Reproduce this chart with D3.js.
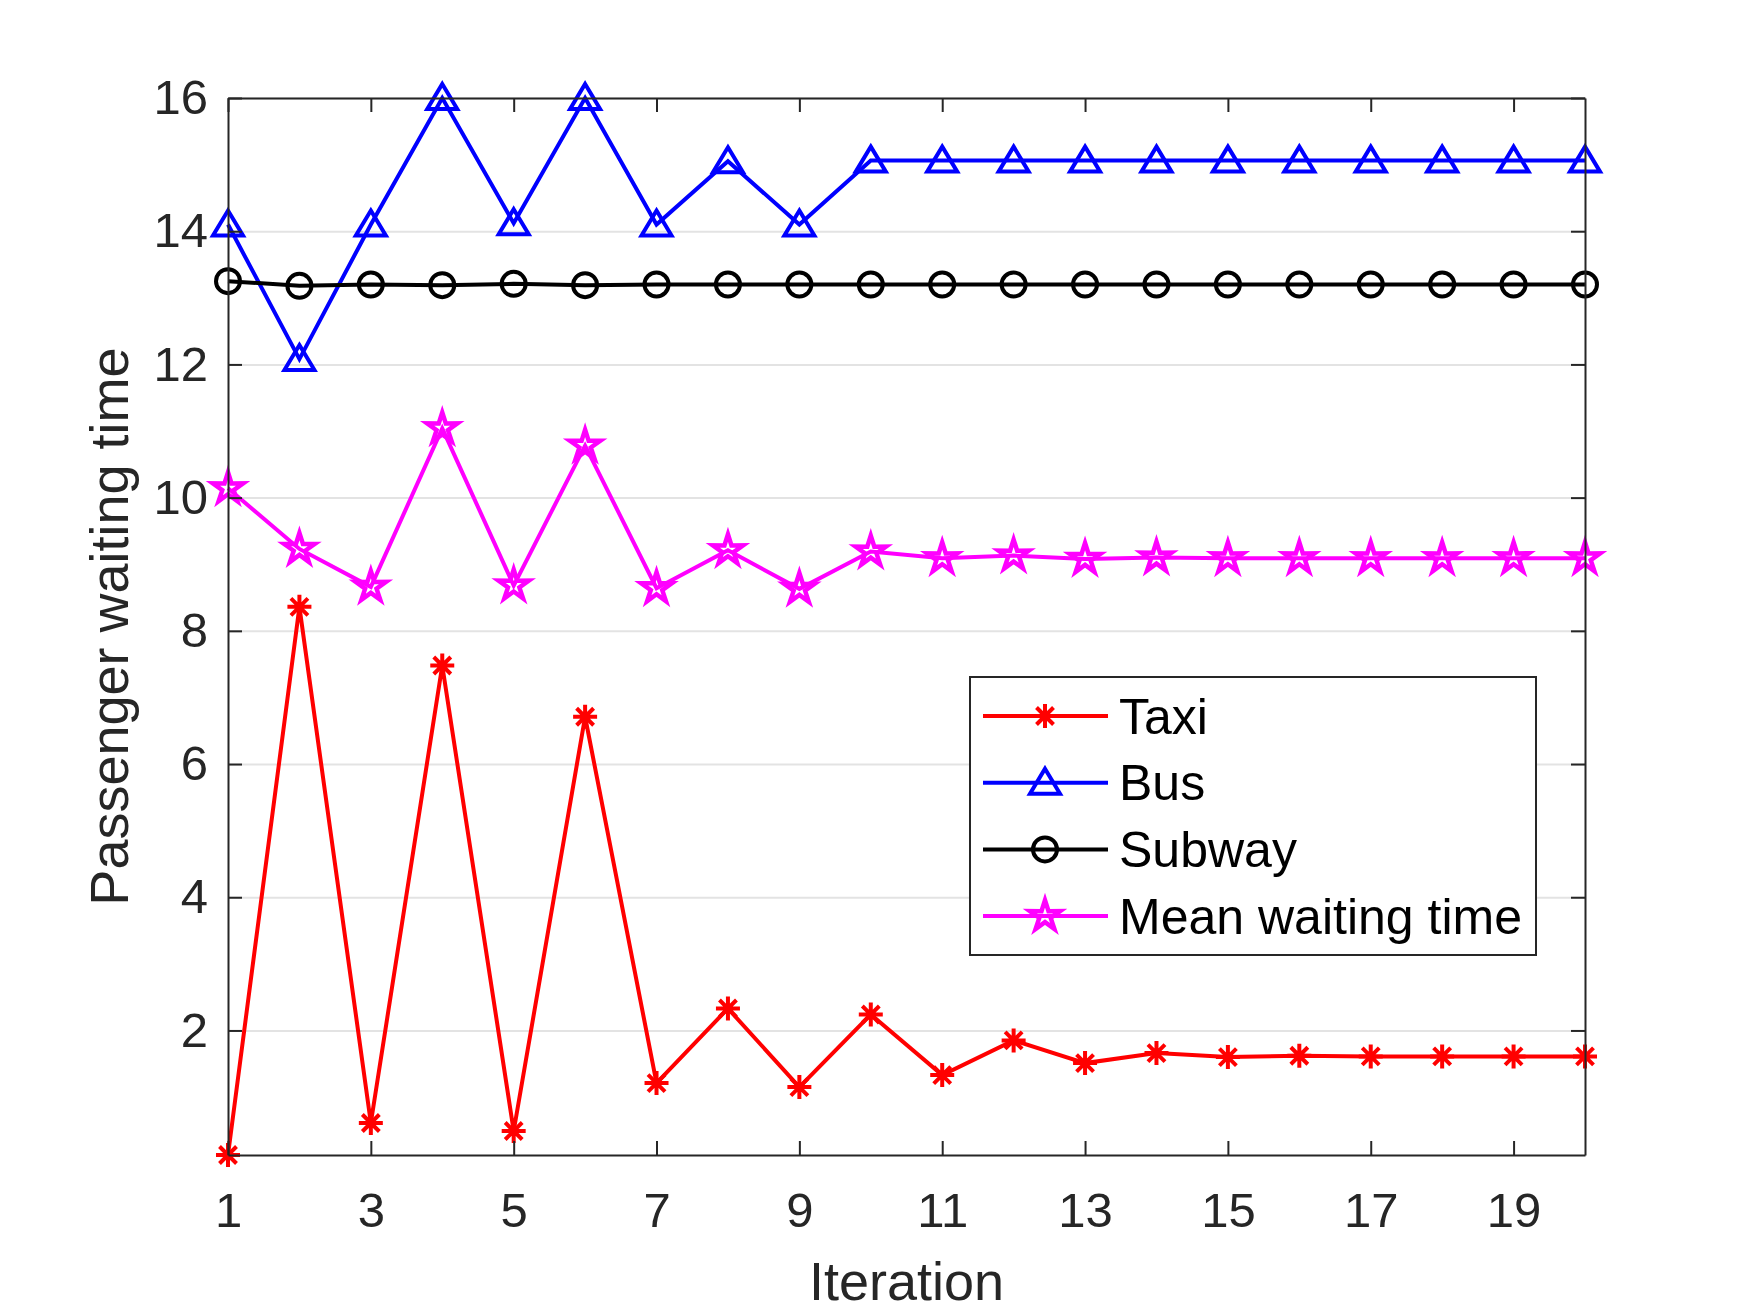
<!DOCTYPE html>
<html>
<head>
<meta charset="utf-8">
<script src="https://cdn.jsdelivr.net/npm/d3@7"></script>
<style>
  body { margin: 0; background: #fff; }
  svg text { font-family: "Liberation Sans", Arial, Helvetica, sans-serif; }
</style>
</head>
<body>
<svg id="chart" width="1750" height="1312"></svg>
<script>
// Data
const iterations = d3.range(1, 21);
const taxi = [0.13, 8.36, 0.61, 7.48, 0.49, 6.71, 1.21, 2.33, 1.15, 2.24,
              1.33, 1.85, 1.51, 1.66, 1.60, 1.62, 1.61, 1.61, 1.61, 1.61];
const bus = [14.1, 12.08, 14.1, 16.0, 14.12, 16.0, 14.1, 15.05, 14.1, 15.06,
             15.06, 15.06, 15.06, 15.06, 15.06, 15.06, 15.06, 15.06, 15.06, 15.06];
const subway = [13.25, 13.18, 13.2, 13.19, 13.21, 13.19, 13.2, 13.2, 13.2, 13.2,
                13.2, 13.2, 13.2, 13.2, 13.2, 13.2, 13.2, 13.2, 13.2, 13.2];
const meanWait = [10.14, 9.23, 8.66, 11.04, 8.68, 10.78, 8.64, 9.21, 8.63, 9.19,
                  9.09, 9.13, 9.08, 9.1, 9.09, 9.09, 9.09, 9.09, 9.09, 9.09];
const xTicks = [1, 3, 5, 7, 9, 11, 13, 15, 17, 19];
const yTicks = [2, 4, 6, 8, 10, 12, 14, 16];

const series = [
  { name: "Taxi", values: taxi, color: "#ff0000", marker: "asterisk" },
  { name: "Bus", values: bus, color: "#0000ff", marker: "triangle" },
  { name: "Subway", values: subway, color: "#000000", marker: "circle" },
  { name: "Mean waiting time", values: meanWait, color: "#ff00ff", marker: "star" }
];

const margin = { top: 98, right: 165, bottom: 157, left: 228 };
const width = 1750 - margin.left - margin.right;
const height = 1312 - margin.top - margin.bottom;
const axisColor = "#262626";

const svg = d3.select("#chart");
const g = svg.append("g").attr("transform", `translate(${margin.left},${margin.top})`);

// Scales (tight limits like the original)
const allValues = series.flatMap(s => s.values);
const x = d3.scaleLinear().domain([1, 20]).range([0, width]);
const y = d3.scaleLinear().domain([d3.min(allValues), d3.max(allValues)]).range([height, 0]);

// Horizontal grid
g.append("g")
  .call(d3.axisLeft(y).tickValues(yTicks).tickSize(-width).tickFormat(""))
  .call(a => a.select(".domain").remove())
  .selectAll("line")
  .attr("stroke", "#e3e3e3")
  .attr("stroke-width", 2);

// Marker drawing
function drawMarker(sel, type, color) {
  if (type === "circle") {
    sel.append("circle").attr("r", 12).attr("fill", "none")
      .attr("stroke", color).attr("stroke-width", 4);
  } else if (type === "triangle") {
    sel.append("path").attr("d", "M0,-14L15,11L-15,11Z").attr("fill", "none")
      .attr("stroke", color).attr("stroke-width", 4).attr("stroke-linejoin", "miter");
  } else if (type === "star") {
    const pts = d3.range(10).map(i => {
      const r = i % 2 === 0 ? 16 : 6;
      const a = -Math.PI / 2 + i * Math.PI / 5;
      return [r * Math.cos(a), r * Math.sin(a)];
    });
    sel.append("path").attr("d", "M" + pts.join("L") + "Z").attr("fill", "none")
      .attr("stroke", color).attr("stroke-width", 4.5);
  } else if (type === "asterisk") {
    const r = 12, d = 8.5;
    sel.append("path")
      .attr("d", `M0,${-r}V${r}M${-r},0H${r}M${-d},${-d}L${d},${d}M${-d},${d}L${d},${-d}`)
      .attr("stroke", color).attr("stroke-width", 4).attr("fill", "none");
  }
}

// Lines and markers
const line = d3.line().x((d, i) => x(iterations[i])).y(d => y(d));
series.forEach(s => {
  g.append("path")
    .datum(s.values)
    .attr("fill", "none")
    .attr("stroke", s.color)
    .attr("stroke-width", 4)
    .attr("d", line);
  s.values.forEach((v, i) => {
    const m = g.append("g").attr("transform", `translate(${x(iterations[i])},${y(v)})`);
    drawMarker(m, s.marker, s.color);
  });
});

// Axes (ticks point inward on all four sides)
function styleAxis(a) {
  a.select(".domain").attr("stroke", axisColor).attr("stroke-width", 2);
  a.selectAll(".tick line").attr("stroke", axisColor).attr("stroke-width", 2);
  a.selectAll("text").attr("fill", axisColor).attr("font-size", 49);
}

g.append("g")
  .attr("transform", `translate(0,${height})`)
  .call(d3.axisBottom(x).tickValues(xTicks).tickSize(-14).tickSizeOuter(0).tickPadding(37).tickFormat(d3.format("d")))
  .call(styleAxis)
  .selectAll("text").attr("dy", "0.71em");

g.append("g")
  .call(d3.axisLeft(y).tickValues(yTicks).tickSize(-14).tickSizeOuter(0).tickPadding(20))
  .call(styleAxis);

g.append("g")
  .call(d3.axisTop(x).tickValues(xTicks).tickSize(-14).tickSizeOuter(0).tickFormat(""))
  .call(styleAxis);

g.append("g")
  .attr("transform", `translate(${width},0)`)
  .call(d3.axisRight(y).tickValues(yTicks).tickSize(-14).tickSizeOuter(0).tickFormat(""))
  .call(styleAxis);

// Axis labels
g.append("text")
  .attr("x", width / 2)
  .attr("y", height + 145)
  .attr("text-anchor", "middle")
  .attr("font-size", 54)
  .attr("fill", axisColor)
  .text("Iteration");

g.append("text")
  .attr("transform", `translate(${-100},${height / 2}) rotate(-90)`)
  .attr("text-anchor", "middle")
  .attr("font-size", 54)
  .attr("fill", axisColor)
  .text("Passenger waiting time");

// Legend
const legend = svg.append("g").attr("transform", "translate(970,677)");
legend.append("rect")
  .attr("width", 566)
  .attr("height", 278)
  .attr("fill", "#fff")
  .attr("stroke", axisColor)
  .attr("stroke-width", 2);

series.forEach((s, i) => {
  const row = legend.append("g").attr("transform", `translate(0,${39 + i * 66.7})`);
  row.append("line")
    .attr("x1", 13).attr("x2", 138)
    .attr("stroke", s.color).attr("stroke-width", 4);
  drawMarker(row.append("g").attr("transform", "translate(75,0)"), s.marker, s.color);
  row.append("text")
    .attr("x", 149)
    .attr("dy", "0.35em")
    .attr("font-size", 50)
    .attr("fill", "#000")
    .text(s.name);
});
</script>
</body>
</html>
